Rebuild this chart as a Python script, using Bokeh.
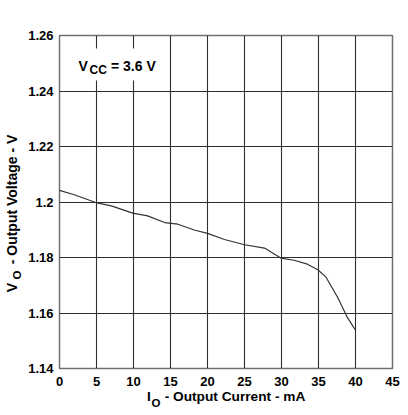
import numpy as np
from bokeh.plotting import figure
from bokeh.models import Range1d, FixedTicker, Label, BoxAnnotation, LinearAxis
from bokeh.embed import file_html
from bokeh.resources import INLINE

# ---- data ----
current_ma = [0.0, 2.0, 4.9, 7.0, 9.9, 11.9, 14.2, 16.0, 18.2, 20.0, 22.3,
              25.0, 27.7, 29.9, 31.7, 33.5, 34.9, 36.0, 37.6, 38.9, 40.0]
voltage_v = [1.2042, 1.2026, 1.1998, 1.1986, 1.1960, 1.1950, 1.1926, 1.1920,
             1.1899, 1.1887, 1.1865, 1.1846, 1.1834, 1.1798, 1.1790, 1.1776,
             1.1756, 1.1730, 1.1656, 1.1584, 1.1538]

x_ticks = [0, 5, 10, 15, 20, 25, 30, 35, 40, 45]
x_tick_labels = ["0", "5", "10", "15", "20", "25", "30", "35", "40", "45"]
y_ticks = [1.14, 1.16, 1.18, 1.2, 1.22, 1.24, 1.26]
y_tick_labels = ["1.14", "1.16", "1.18", "1.2", "1.22", "1.24", "1.26"]

x_title = ["I", "O", "- Output Current - mA"]      # main, subscript, main
y_title = ["V", "O", "- Output Voltage - V"]
vcc_text = ["V", "CC", "= 3.6 V"]

FONT = "Liberation Sans"
X0, X1, Y0, Y1 = 0, 45, 1.14, 1.26
W, H = 406, 413
FW, FH = 333, 333            # frame size in px
LEFT, TOP = 59, 35           # frame offset in px

p = figure(width=W, height=H,
           x_range=Range1d(X0, X1), y_range=Range1d(Y0, Y1),
           output_backend="svg", toolbar_location=None, title=None,
           min_border_left=LEFT, min_border_right=W - LEFT - FW,
           min_border_top=TOP, min_border_bottom=H - TOP - FH)

p.background_fill_color = "white"
p.border_fill_color = "white"
p.outline_line_color = "#707070"
p.outline_line_width = 1.5

xt = FixedTicker(ticks=x_ticks)
yt = FixedTicker(ticks=y_ticks)
xa = p.xaxis[0]
ya = p.yaxis[0]
xa.ticker = xt
ya.ticker = yt
p.xgrid.ticker = xt
p.ygrid.ticker = yt
xa.major_label_overrides = {t: l for t, l in zip(x_ticks, x_tick_labels)}
ya.major_label_overrides = {t: l for t, l in zip(y_ticks, y_tick_labels)}

def style_axis(ax, size, standoff):
    ax.axis_line_color = None
    ax.major_tick_line_color = None
    ax.minor_tick_line_color = None
    ax.major_tick_out = 0
    ax.major_tick_in = 0
    ax.major_label_standoff = standoff
    ax.major_label_text_font = FONT
    ax.major_label_text_font_style = "bold"
    ax.major_label_text_font_size = size
    ax.major_label_text_color = "black"

style_axis(xa, "13px", 8)
style_axis(ya, "13px", 6)

p.grid.grid_line_color = "#2e2e2e"
p.grid.grid_line_width = 1.1

p.line(current_ma, voltage_v, line_color="#333333", line_width=1.2)

# ---- axis titles with subscripts: tick labels of extra stacked axes ----
def px_to_x(px):      # page pixel -> data x
    return X0 + (px - LEFT) * (X1 - X0) / FW

def py_to_y(py):      # page pixel -> data y
    return Y1 - (py - TOP) * (Y1 - Y0) / FH

def title_axis(side, ticks, labels, size, standoff, orientation):
    ax = LinearAxis(ticker=FixedTicker(ticks=ticks),
                    major_label_overrides={t: l for t, l in zip(ticks, labels)},
                    major_label_orientation=orientation)
    style_axis(ax, size, standoff)
    p.add_layout(ax, side)

# x title: centres of the pieces (page px)
title_axis("below", [px_to_x(148.4), px_to_x(234.5)],
           [x_title[0], x_title[2]], "13.7px", 0, "horizontal")
title_axis("below", [px_to_x(155.5)], [x_title[1]], "11.5px", -10, "horizontal")

# y title
title_axis("left", [py_to_y(287.0), py_to_y(199.0)],
           [y_title[0], y_title[2]], "14px", 6, "vertical")
title_axis("left", [py_to_y(274.5)], [y_title[1]], "11.5px", -22, "vertical")

# ---- V_CC annotation ----
def lab(x, y, text, size="14px"):
    p.add_layout(Label(x=x, y=y, x_units="screen", y_units="screen", text=text,
                       text_font=FONT, text_font_style="bold",
                       text_font_size=size, text_color="black",
                       text_align="left", text_baseline="alphabetic"))

p.add_layout(BoxAnnotation(left=11, right=101, bottom=288, top=320,
                           left_units="screen", right_units="screen",
                           bottom_units="screen", top_units="screen",
                           fill_color="white", fill_alpha=1.0,
                           line_color=None))
lab(19, 303, vcc_text[0])
lab(30, 299, vcc_text[1], size="12px")
lab(51.5, 303, vcc_text[2])

open("out.html", "w").write(file_html(p, INLINE))
